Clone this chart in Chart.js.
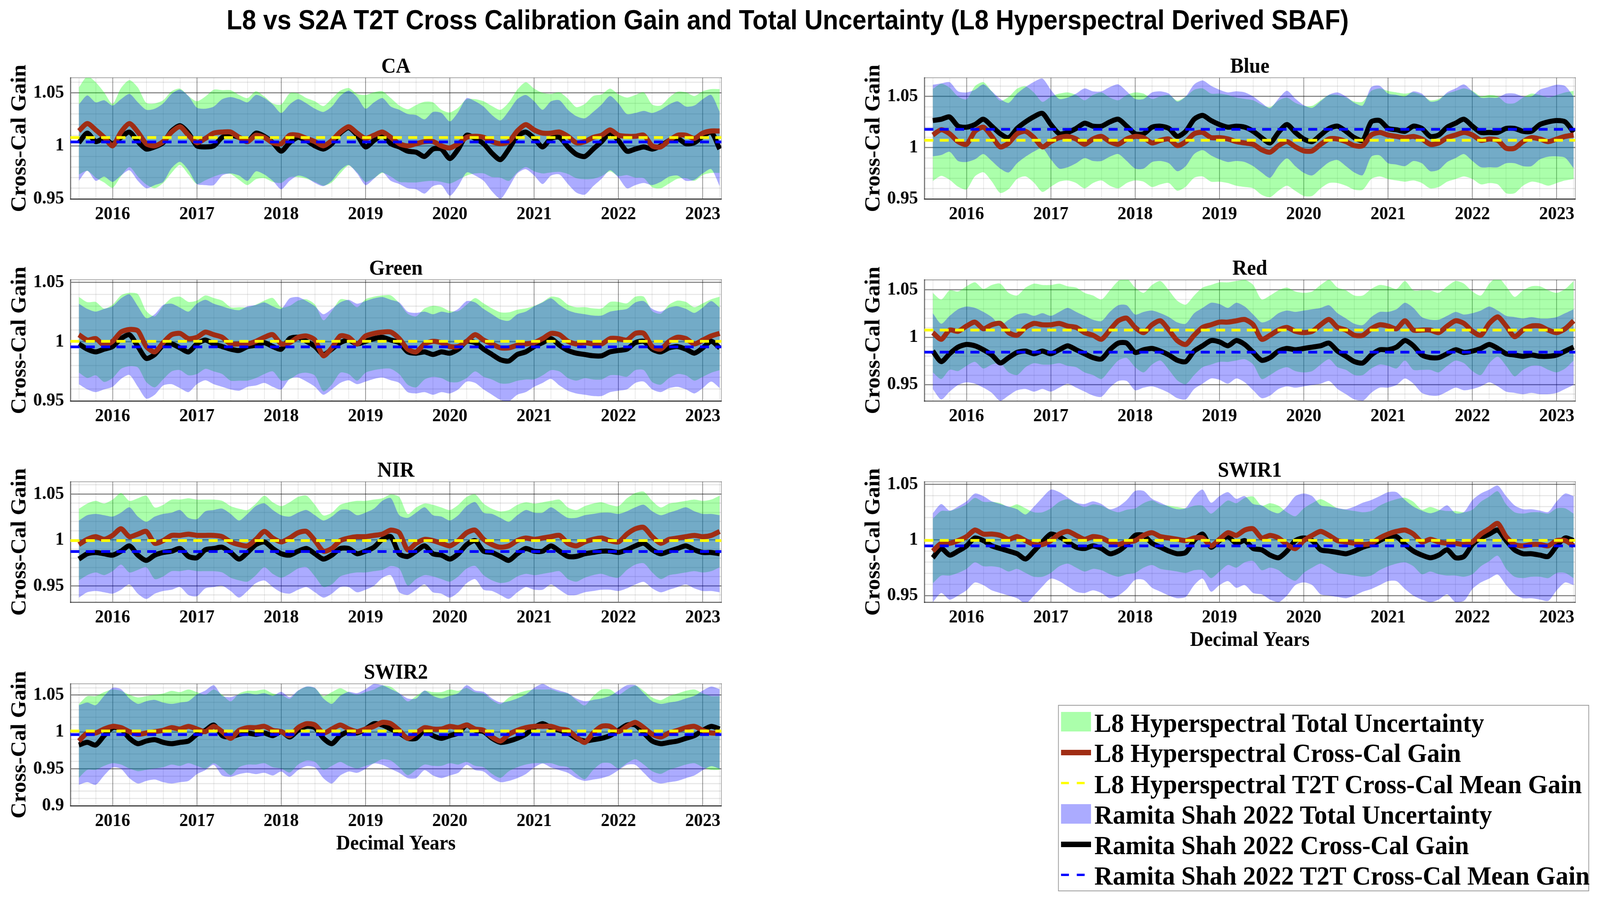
<!DOCTYPE html>
<html><head><meta charset="utf-8">
<script src="https://cdn.jsdelivr.net/npm/chart.js@4.4.1/dist/chart.umd.min.js"></script>
<style>
html,body{margin:0;padding:0;background:#fff;overflow:hidden;}
#page{position:absolute;left:0;top:0;width:4272px;height:2311px;transform-origin:0 0;background:#fff;}
#title{position:absolute;left:605px;top:16px;white-space:nowrap;font-family:'Liberation Sans',Arial,sans-serif;font-weight:bold;font-size:70px;line-height:70px;color:#000;transform-origin:0 0;}
#legend{position:absolute;left:2825px;top:1804px;width:1414px;height:473px;border:2px solid #9a9a9a;background:#fff;}
.lt{position:absolute;left:95px;font-family:'Liberation Serif','Times New Roman',serif;font-weight:bold;font-size:68px;line-height:68px;white-space:nowrap;color:#000;}
.ic{position:absolute;}
</style></head><body>
<div id="page">
<div id="title">L8 vs S2A T2T Cross Calibration Gain and Total Uncertainty (L8 Hyperspectral Derived SBAF)</div>
<div id="legend">
 <div class="ic" style="left:6px;top:16px;width:80px;height:50px;background:rgba(0,255,0,0.33)"></div>
 <div class="lt" style="top:10px">L8 Hyperspectral Total Uncertainty</div>
 <div class="ic" style="left:6px;top:113px;width:80px;height:14px;background:#a02d14"></div>
 <div class="lt" style="top:87px">L8 Hyperspectral Cross-Cal Gain</div>
 <div class="ic" style="left:6px;top:195px;width:21px;height:6px;background:#ffff00"></div>
 <div class="ic" style="left:48px;top:195px;width:21px;height:6px;background:#ffff00"></div>
 <div class="lt" style="top:167px">L8 Hyperspectral T2T Cross-Cal Mean Gain</div>
 <div class="ic" style="left:6px;top:252px;width:80px;height:50px;background:rgba(0,0,255,0.33)"></div>
 <div class="lt" style="top:245px">Ramita Shah 2022 Total Uncertainty</div>
 <div class="ic" style="left:6px;top:348px;width:80px;height:14px;background:#000"></div>
 <div class="lt" style="top:323px">Ramita Shah 2022 Cross-Cal Gain</div>
 <div class="ic" style="left:6px;top:430px;width:21px;height:6px;background:#0000ff"></div>
 <div class="ic" style="left:48px;top:430px;width:21px;height:6px;background:#0000ff"></div>
 <div class="lt" style="top:401px">Ramita Shah 2022 T2T Cross-Cal Mean Gain</div>
</div>
</div>
<script>
// ---------------- DATA ----------------
const times = [
2015.6,2015.7,2015.8,2015.9,2016.0,2016.1,2016.2,2016.3,2016.4,2016.5,
2016.6,2016.7,2016.8,2016.9,2017.0,2017.1,2017.2,2017.3,2017.4,2017.5,
2017.6,2017.7,2017.8,2017.9,2018.0,2018.1,2018.2,2018.3,2018.4,2018.5,
2018.6,2018.7,2018.8,2018.9,2019.0,2019.1,2019.2,2019.3,2019.4,2019.5,
2019.6,2019.7,2019.8,2019.9,2020.0,2020.1,2020.2,2020.3,2020.4,2020.5,
2020.6,2020.7,2020.8,2020.9,2021.0,2021.1,2021.2,2021.3,2021.4,2021.5,
2021.6,2021.7,2021.8,2021.9,2022.0,2022.1,2022.2,2022.3,2022.4,2022.5,
2022.6,2022.7,2022.8,2022.9,2023.0,2023.1,2023.2];
const xTickLabels = [2016,2017,2018,2019,2020,2021,2022,2023];
const bandNames = ['CA','Blue','Green','Red','NIR','SWIR1','SWIR2'];
const l8MeanGain = [1.0078,1.0072,1.0003,1.0076,0.9993,0.9996,1.0013];
const rsMeanGain = [1.0037,1.0179,0.9956,0.9843,0.9874,0.9947,0.9964];
const yTicksStd = [0.95,1,1.05];
const yTicksSWIR2 = [0.9,0.95,1,1.05];

// CA
const caL8Gain = [
1.014,1.021,1.015,1.008,1.000,1.013,1.021,1.013,1.002,1.000,
1.004,1.013,1.018,1.010,1.003,1.007,1.012,1.013,1.013,1.008,
1.004,1.010,1.008,1.003,1.002,1.010,1.010,1.007,1.004,1.000,
1.005,1.013,1.018,1.012,1.007,1.010,1.013,1.008,1.002,1.000,
1.002,1.004,1.004,1.000,0.998,1.002,1.008,1.009,1.008,1.004,
1.002,1.004,1.014,1.020,1.015,1.012,1.012,1.013,1.009,1.003,
1.004,1.008,1.010,1.015,1.010,1.009,1.009,1.010,1.000,0.999,
1.005,1.010,1.010,1.007,1.012,1.014,1.014];
const caRsGain = [
1.003,1.012,1.004,1.007,1.002,1.008,1.013,1.004,0.997,0.999,
1.003,1.014,1.019,1.012,1.000,0.999,1.000,1.008,1.010,1.008,
1.004,1.012,1.009,1.003,0.995,1.003,1.008,1.005,1.000,0.997,
1.002,1.012,1.017,1.010,0.999,1.005,1.010,1.002,0.999,0.995,
0.994,0.990,0.997,0.997,0.988,0.997,1.010,1.007,1.002,0.993,
0.987,0.997,1.009,1.013,1.007,0.999,1.007,1.008,0.999,0.992,
0.990,0.997,1.004,1.012,1.005,0.995,0.997,0.999,0.997,1.000,
1.005,1.007,1.002,1.003,1.009,1.013,0.997];
const caL8Unc = [
.041,.0445,.045,.0425,.0395,.0415,.041,.042,.0385,.040,
.039,.0385,.036,.037,.039,.0395,.041,.0395,.0395,.040,
.041,.0415,.0385,.037,.037,.0395,.0395,.038,.038,.0375,
.0395,.039,.0365,.037,.041,.0405,.0385,.037,.036,.0345,
.0365,.0375,.037,.034,.0335,.034,.036,.035,.034,.0335,
.032,.037,.039,.040,.039,.038,.037,.0375,.0355,.0335,
.0355,.039,.0385,.039,.0385,.0365,.039,.0405,.039,.039,
.0405,.041,.0405,.040,.0395,.0395,.0395];
const caRsUnc = [
.036,.0355,.037,.036,.036,.036,.036,.037,.037,.036,
.037,.035,.034,.035,.036,.036,.037,.036,.036,.036,
.037,.036,.036,.036,.036,.036,.036,.035,.035,.035,
.035,.035,.035,.036,.036,.036,.035,.035,.035,.035,
.035,.035,.035,.034,.035,.035,.035,.035,.035,.036,
.037,.036,.035,.035,.035,.035,.035,.035,.035,.036,
.036,.035,.035,.035,.035,.035,.034,.034,.034,.034,
.034,.035,.035,.035,.035,.035,.035];

// Blue
const blueL8Gain = [
1.0124,1.0175,1.0136,1.0059,1.0033,1.016,1.020,1.011,1.0008,1.0046,
1.0136,1.016,1.0098,1.0008,1.0059,1.0098,1.011,1.0085,1.0033,1.0085,
1.011,1.0059,1.0033,1.0085,1.011,1.0098,1.0046,1.0072,1.0085,1.002,
1.0059,1.0136,1.0149,1.0098,1.0098,1.0085,1.0059,1.0046,1.0033,0.998,
0.9956,1.002,1.0059,1.0008,0.9969,0.9969,1.0033,1.0085,1.0085,1.0059,
1.002,1.002,1.0124,1.0149,1.0124,1.011,1.0098,1.011,1.0085,1.0033,
1.0046,1.0098,1.0124,1.0149,1.0124,1.0072,1.0085,1.0072,0.9995,0.9995,
1.0059,1.0098,1.0085,1.0059,1.0085,1.011,1.0124];
const blueRsGain = [
1.0265,1.0278,1.030,1.021,1.020,1.0226,1.0278,1.021,1.0136,1.0098,
1.0188,1.0252,1.0303,1.0335,1.0226,1.0136,1.0149,1.0188,1.0239,1.021,
1.021,1.0252,1.0278,1.021,1.0136,1.0136,1.020,1.021,1.0188,1.011,
1.016,1.0278,1.0316,1.0265,1.0226,1.020,1.021,1.020,1.016,1.0098,
1.0046,1.0149,1.0226,1.0149,1.0085,1.0059,1.0124,1.0188,1.021,1.016,
1.0098,1.0072,1.0252,1.0265,1.0188,1.0175,1.016,1.021,1.0188,1.011,
1.0124,1.020,1.0239,1.0278,1.021,1.0149,1.0149,1.0149,1.0188,1.0188,
1.016,1.016,1.0226,1.0252,1.0265,1.0252,1.0149];
const blueL8Unc = [
.045,.045,.045,.044,.044,.044,.044,.044,.045,.045,
.044,.044,.044,.044,.044,.043,.043,.043,.043,.043,
.043,.043,.043,.043,.043,.043,.043,.043,.043,.044,
.044,.043,.043,.043,.043,.043,.043,.043,.043,.044,
.044,.044,.043,.043,.044,.044,.043,.043,.043,.043,
.043,.043,.043,.043,.043,.043,.043,.043,.043,.043,
.043,.043,.043,.043,.043,.043,.043,.043,.044,.044,
.043,.043,.043,.043,.043,.043,.043];
const blueRsUnc = [
.035,.035,.034,.034,.034,.034,.034,.034,.034,.034,
.034,.034,.034,.034,.034,.034,.034,.034,.034,.034,
.034,.034,.034,.034,.034,.034,.034,.034,.034,.034,
.034,.034,.034,.034,.034,.034,.034,.034,.034,.034,
.034,.033,.033,.033,.033,.033,.033,.033,.033,.034,
.034,.034,.034,.034,.034,.034,.034,.034,.034,.034,
.034,.034,.034,.034,.034,.034,.034,.034,.034,.034,
.034,.034,.034,.034,.035,.035,.035];

// Green
const greenL8Gain = [
1.0059,1.0014,1.0026,0.997,1.0003,1.0081,1.0103,1.0092,0.9959,0.9914,
0.9992,1.0059,1.007,1.0026,1.0037,1.0081,1.0059,1.0037,0.9981,0.9981,
0.9981,1.0003,1.0037,1.0059,0.9981,0.9992,1.0037,1.0048,1.0014,0.9881,
0.9948,1.0048,1.0037,0.9981,1.0048,1.007,1.0081,1.0081,1.0026,0.9937,
0.9914,0.9981,1.0003,0.9992,0.9959,0.9959,1.0003,1.0059,1.0014,0.9981,
0.9948,0.9948,0.997,0.9981,0.9992,1.0026,1.007,1.0059,1.0003,0.9981,
0.9992,0.9981,0.9981,1.0026,1.0026,1.0014,1.007,1.007,0.9959,0.9937,
1.0003,1.0037,1.0026,0.9981,1.0014,1.0048,1.007];
const greenRsGain = [
0.9981,0.9937,0.9914,0.9937,0.9959,1.0026,1.0059,0.9959,0.9859,0.9892,
0.997,0.9981,0.9948,0.9914,0.9981,1.0014,0.9981,0.9959,0.9937,0.9926,
0.9959,0.997,0.9992,0.9959,0.9937,1.0026,1.0037,1.0003,0.9959,0.9892,
0.9937,0.9992,1.0014,0.9981,1.0003,1.0026,1.0037,1.0014,0.9992,0.9914,
0.9903,0.9914,0.9892,0.9914,0.9903,0.9937,1.0003,0.9992,0.9937,0.9892,
0.9848,0.9837,0.9892,0.9914,0.9959,0.9992,1.0026,0.997,0.9926,0.9903,
0.9892,0.9881,0.9881,0.9914,0.9926,0.9937,0.9992,1.0003,0.9937,0.9914,
0.9948,0.9959,0.9937,0.9903,0.9948,1.0003,0.9948];
const greenL8Unc = [
.032,.032,.031,.031,.031,.031,.031,.031,.030,.030,
.031,.031,.031,.031,.031,.031,.031,.031,.031,.031,
.031,.031,.031,.031,.031,.031,.031,.031,.030,.030,
.031,.031,.031,.031,.031,.031,.031,.031,.030,.030,
.030,.030,.030,.030,.030,.030,.031,.031,.031,.030,
.030,.030,.030,.030,.031,.031,.031,.031,.031,.031,
.030,.030,.030,.031,.031,.031,.031,.031,.030,.030,
.031,.031,.031,.031,.031,.031,.031];
const greenRsUnc = [
.034,.034,.034,.034,.034,.034,.034,.034,.034,.034,
.034,.034,.034,.034,.034,.034,.034,.034,.034,.034,
.034,.034,.034,.034,.034,.034,.034,.034,.034,.034,
.034,.034,.034,.034,.034,.034,.034,.034,.034,.034,
.034,.034,.034,.034,.034,.034,.034,.034,.034,.034,
.034,.034,.034,.034,.034,.034,.034,.034,.034,.034,
.034,.034,.034,.034,.034,.034,.034,.034,.034,.034,
.034,.034,.034,.034,.034,.034,.034];

// Red
const redL8Gain = [
1.0049,0.9979,1.0076,1.0063,1.0118,1.016,1.009,1.0132,1.0146,1.0049,
1.0021,1.0104,1.0146,1.0132,1.0132,1.0146,1.0118,1.0104,1.0049,1.0021,
0.9979,1.0076,1.0174,1.0201,1.0104,1.0049,1.0132,1.0174,1.0076,0.9965,
0.9924,1.0021,1.0104,1.0132,1.016,1.016,1.0174,1.0188,1.0132,0.9979,
1.0021,1.0076,1.0104,1.0063,1.0049,1.0063,1.0132,1.0188,1.0104,1.0076,
1.0021,1.0021,1.009,1.0132,1.0118,1.009,1.0174,1.0076,1.0076,1.0076,
1.0049,1.0118,1.0174,1.0146,1.0063,1.0021,1.0146,1.0215,1.0118,1.0007,
1.0076,1.0118,1.0118,1.0076,1.0049,1.009,1.0174];
const redRsGain = [
0.9854,0.9743,0.9826,0.9896,0.9924,0.991,0.9868,0.9813,0.9729,0.9785,
0.984,0.9854,0.9826,0.9854,0.9826,0.9868,0.991,0.9868,0.9826,0.9785,
0.9771,0.9868,0.9938,0.9938,0.984,0.9868,0.9882,0.9854,0.9813,0.9757,
0.9743,0.9854,0.991,0.9965,0.9951,0.991,0.9965,0.9924,0.984,0.9757,
0.9785,0.9854,0.9882,0.9868,0.9882,0.9896,0.991,0.9938,0.9854,0.9799,
0.9743,0.9729,0.9813,0.9868,0.9868,0.9896,0.9965,0.991,0.9813,0.9785,
0.9785,0.9826,0.9868,0.984,0.9854,0.9882,0.9924,0.9882,0.9826,0.9813,
0.9799,0.9813,0.9799,0.9799,0.9813,0.9854,0.9896];
const redL8Unc = [
.042,.042,.042,.042,.042,.042,.042,.042,.042,.042,
.042,.042,.042,.042,.042,.042,.042,.042,.042,.042,
.042,.042,.042,.042,.042,.042,.042,.042,.042,.042,
.042,.042,.042,.042,.042,.042,.042,.042,.042,.042,
.042,.042,.042,.042,.042,.042,.042,.042,.042,.042,
.042,.042,.042,.042,.042,.042,.042,.042,.042,.042,
.042,.042,.042,.042,.042,.042,.042,.042,.042,.042,
.042,.042,.042,.042,.042,.042,.042];
const redRsUnc = [
.040,.040,.040,.040,.040,.040,.040,.040,.040,.040,
.040,.040,.040,.040,.040,.040,.040,.040,.040,.040,
.040,.040,.040,.040,.040,.040,.040,.040,.040,.040,
.040,.040,.040,.040,.040,.040,.040,.040,.040,.040,
.040,.040,.040,.040,.040,.040,.040,.040,.040,.040,
.040,.040,.040,.040,.040,.040,.040,.040,.040,.040,
.040,.040,.040,.040,.040,.040,.040,.040,.040,.040,
.040,.040,.040,.040,.040,.040,.040];

// NIR
const nirL8Gain = [
0.995,1.0007,1.0036,1.0007,1.005,1.0122,1.0036,1.0064,1.0093,0.9964,
0.9993,1.005,1.005,1.0064,1.005,1.005,1.005,1.0036,0.9979,0.995,
0.9936,1.0007,1.0093,1.0021,0.9979,1.0021,1.0079,1.0093,0.9993,0.9878,
0.9907,0.9993,1.0021,1.0036,1.0036,1.005,1.0064,1.0107,1.0079,0.9893,
0.9964,1.0007,0.9993,0.9964,0.9936,0.9993,1.0079,1.0107,1.0007,0.995,
0.9921,0.9936,0.9993,1.0021,1.0007,1.0021,1.0036,1.005,0.9964,0.9936,
0.9979,1.0007,1.0021,0.9993,0.9979,1.0064,1.0122,1.0136,1.0036,0.9964,
1.0007,1.0021,1.0036,1.005,1.0036,1.005,1.0093];
const nirRsGain = [
0.9792,0.985,0.9864,0.985,0.9835,0.9878,0.9936,0.9835,0.9778,0.9835,
0.9864,0.9878,0.9907,0.9821,0.9807,0.9893,0.9907,0.9921,0.9864,0.9792,
0.9864,0.995,0.9979,0.9907,0.985,0.9835,0.9878,0.9907,0.985,0.9792,
0.9835,0.9907,0.9907,0.985,0.9878,0.9921,1.0007,1.0036,0.985,0.9821,
0.9878,0.9936,0.985,0.9835,0.9792,0.985,0.995,0.9993,0.9878,0.9864,
0.9821,0.9778,0.985,0.9907,0.9878,0.9878,0.9936,0.9878,0.9821,0.9821,
0.985,0.9864,0.9878,0.9878,0.9864,0.9893,0.9936,0.9964,0.9893,0.985,
0.9878,0.9907,0.9936,0.9893,0.9864,0.9864,0.985];
const nirL8Unc = [
.039,.039,.039,.039,.039,.039,.039,.039,.039,.039,
.039,.039,.039,.039,.039,.039,.039,.039,.039,.039,
.039,.039,.039,.039,.039,.039,.039,.039,.039,.039,
.039,.039,.039,.039,.039,.039,.039,.039,.039,.039,
.039,.039,.039,.039,.039,.039,.039,.039,.039,.039,
.039,.039,.039,.039,.039,.039,.039,.039,.039,.039,
.039,.039,.039,.039,.039,.039,.039,.039,.039,.039,
.039,.039,.039,.039,.039,.039,.039];
const nirRsUnc = [
.042,.042,.042,.042,.042,.042,.042,.042,.042,.042,
.042,.042,.042,.042,.042,.042,.042,.042,.042,.042,
.042,.042,.042,.042,.042,.042,.042,.042,.042,.042,
.042,.042,.042,.042,.042,.042,.042,.042,.042,.042,
.042,.042,.042,.042,.042,.042,.042,.042,.042,.042,
.042,.042,.042,.042,.042,.042,.042,.042,.042,.042,
.042,.042,.042,.042,.042,.042,.042,.042,.042,.042,
.042,.042,.042,.042,.042,.042,.042];

// SWIR1
const swir1L8Gain = [
0.990,0.997,0.997,0.9994,1.003,1.0089,1.0053,1.0053,1.0041,1.0006,
1.003,0.9994,0.9959,0.9959,0.9994,1.0053,1.0077,1.0041,1.0006,1.003,
1.0018,0.9982,0.9959,0.9982,0.9994,1.0041,1.0065,1.003,1.0018,1.0006,
0.9994,1.0018,1.0018,0.9947,1.0006,1.0065,1.0041,1.0089,1.010,1.0018,
1.0041,1.0018,0.9959,0.9923,0.9994,1.0041,1.0077,1.0041,0.9994,0.9982,
0.997,0.9959,0.997,1.0018,1.0053,1.0077,1.0089,1.0053,0.9982,1.0006,
0.9982,0.997,0.997,0.9959,0.9982,1.0053,1.010,1.0148,1.003,0.9959,
0.9947,0.9959,0.9959,0.9947,0.9994,0.9994,0.9947];
const swir1RsGain = [
0.984,0.9923,0.9864,0.990,0.9947,1.0018,0.9994,0.9947,0.9923,0.990,
0.9876,0.9829,0.990,0.9982,1.0053,1.003,0.9982,0.9935,0.9923,0.9947,
0.9923,0.9876,0.990,0.9959,1.0041,1.0041,0.997,0.9935,0.990,0.9876,
0.9888,0.9994,1.0053,0.9935,0.9994,1.003,0.997,0.9994,0.9923,0.9911,
0.9864,0.984,0.990,0.9994,1.0018,0.9994,0.9911,0.990,0.9888,0.9876,
0.990,0.9935,0.9959,0.9994,1.003,1.003,0.9959,0.990,0.9864,0.984,
0.9864,0.9911,0.984,0.9852,0.9959,1.0018,1.0053,1.0089,0.9994,0.9911,
0.9876,0.9876,0.9864,0.9852,0.9947,1.0018,0.9994];
const swir1L8Unc = [
.029,.029,.029,.029,.029,.029,.029,.029,.029,.029,
.029,.029,.029,.029,.029,.029,.029,.029,.029,.029,
.029,.029,.029,.029,.029,.029,.029,.029,.029,.029,
.029,.029,.029,.029,.029,.029,.029,.029,.029,.029,
.029,.029,.029,.029,.029,.029,.029,.029,.029,.029,
.029,.029,.029,.029,.029,.029,.029,.029,.029,.029,
.029,.029,.029,.029,.029,.029,.029,.029,.029,.029,
.029,.029,.029,.029,.029,.029,.029];
const swir1RsUnc = [
.040,.040,.040,.040,.040,.040,.040,.040,.040,.040,
.040,.040,.040,.040,.040,.040,.040,.040,.040,.040,
.040,.040,.040,.040,.040,.040,.040,.040,.040,.040,
.040,.040,.040,.040,.040,.040,.040,.040,.040,.040,
.040,.040,.040,.040,.040,.040,.040,.040,.040,.040,
.040,.040,.040,.040,.040,.040,.040,.040,.040,.040,
.040,.040,.040,.040,.040,.040,.040,.040,.040,.040,
.040,.040,.040,.040,.040,.040,.040];

// SWIR2
const swir2L8Gain = [
0.9877,0.9986,0.9986,1.004,1.0076,1.0058,1.0004,0.9968,0.9986,1.0004,
1.0022,1.0058,1.004,1.0076,1.004,1.0004,1.0076,1.0004,0.9914,1.0022,
1.0058,1.0058,1.0076,1.0022,1.0004,0.995,1.0058,1.0112,1.0094,0.9986,
1.004,1.0094,1.004,1.0004,1.004,1.0076,1.013,1.0112,1.0022,0.9914,
0.9986,1.0058,1.004,1.004,1.0076,1.0058,1.0094,1.004,1.0022,0.9932,
0.9877,0.9968,1.0022,1.0058,1.0076,1.0076,1.0076,1.004,1.0022,0.9932,
0.9859,0.9986,1.0076,1.0076,1.0004,1.0076,1.013,1.0058,0.9968,0.9932,
0.9986,1.0022,1.0058,1.0076,1.0022,0.9986,0.9986];
const swir2RsGain = [
0.9823,0.9859,0.9823,0.995,1.0058,1.004,0.9914,0.9841,0.9877,0.9895,
0.9859,0.9841,0.9859,0.9877,0.9968,1.0022,1.0094,0.995,0.9932,0.9968,
0.9986,0.9968,0.9986,0.995,1.0004,0.9932,1.0022,1.0076,1.0058,0.9914,
0.9841,0.995,1.0004,0.9986,1.004,1.0112,1.0094,1.004,0.9986,0.9914,
0.9914,1.0022,0.995,0.9914,0.995,0.9986,1.0094,1.0022,1.0004,0.9914,
0.9859,0.9877,0.9914,0.9968,1.0058,1.0112,1.0058,1.0022,0.9986,0.9914,
0.9877,0.9895,0.9914,0.995,1.0022,1.0094,1.0094,0.9986,0.9877,0.9841,
0.9859,0.9877,0.9914,0.995,1.0022,1.0076,1.004];
const swir2L8Unc = [
.050,.050,.050,.050,.050,.050,.050,.050,.050,.050,
.050,.050,.050,.050,.050,.050,.050,.050,.050,.050,
.050,.050,.050,.050,.050,.050,.050,.050,.050,.050,
.050,.050,.050,.050,.050,.050,.050,.050,.050,.050,
.050,.050,.050,.050,.050,.050,.050,.050,.050,.050,
.050,.050,.050,.050,.050,.050,.050,.050,.050,.050,
.050,.050,.050,.050,.050,.050,.050,.050,.050,.050,
.050,.050,.050,.050,.050,.050,.050];
const swir2RsUnc = [
.054,.054,.054,.054,.054,.054,.054,.054,.054,.054,
.054,.054,.054,.054,.054,.054,.054,.054,.054,.054,
.054,.054,.054,.054,.054,.054,.054,.054,.054,.054,
.054,.054,.054,.054,.054,.054,.054,.054,.054,.054,
.054,.054,.054,.054,.054,.054,.054,.054,.054,.054,
.054,.054,.054,.054,.054,.054,.054,.054,.054,.054,
.054,.054,.054,.054,.054,.054,.054,.054,.054,.054,
.054,.054,.054,.054,.054,.054,.054];

// ---------------- LAYOUT / STYLE ----------------
const SERIF = "'Liberation Serif','Times New Roman',serif";
const XMIN = 2015.5, XMAX = 2023.22;
const COLS = [{axL:188, axR:1926},{axL:2468, axR:4206}];
const ROWS = [{top:199,bot:509},{top:716,bot:1026},{top:1233,bot:1541},{top:1750,bot:2062}];
const TITLE_H = 54;

const panels = [
 {col:0,row:0,l8:caL8Gain,rs:caRsGain,l8u:caL8Unc,rsu:caRsUnc,ticks:yTicksStd,ymin:0.95,ymax:1.0642,xlabel:false},
 {col:1,row:0,l8:blueL8Gain,rs:blueRsGain,l8u:blueL8Unc,rsu:blueRsUnc,ticks:yTicksStd,ymin:0.95,ymax:1.0683,xlabel:false},
 {col:0,row:1,l8:greenL8Gain,rs:greenRsGain,l8u:greenL8Unc,rsu:greenRsUnc,ticks:yTicksStd,ymin:0.95,ymax:1.0523,xlabel:false},
 {col:1,row:1,l8:redL8Gain,rs:redRsGain,l8u:redL8Unc,rsu:redRsUnc,ticks:yTicksStd,ymin:0.9328,ymax:1.0607,xlabel:false},
 {col:0,row:2,l8:nirL8Gain,rs:nirRsGain,l8u:nirL8Unc,rsu:nirRsUnc,ticks:yTicksStd,ymin:0.9323,ymax:1.0634,xlabel:false},
 {col:1,row:2,l8:swir1L8Gain,rs:swir1RsGain,l8u:swir1L8Unc,rsu:swir1RsUnc,ticks:yTicksStd,ymin:0.9441,ymax:1.0523,xlabel:true},
 {col:0,row:3,l8:swir2L8Gain,rs:swir2RsGain,l8u:swir2L8Unc,rsu:swir2RsUnc,ticks:yTicksSWIR2,ymin:0.9,ymax:1.0653,xlabel:true}
];

const page = document.getElementById('page');
(function(){
  const t = document.getElementById('title');
  const w = t.offsetWidth;
  t.style.transform = 'scaleX(' + (2996 / w) + ')';
})();

function minorX(){ const out=[]; for(let k=Math.ceil(XMIN*5); k<=Math.floor(XMAX*5); k++){ if(k%5!==0) out.push({value:k/5}); } return out; }
function minorY(p){ const out=[]; for(let k=Math.ceil(p.ymin*100-1e-9); k<=Math.floor(p.ymax*100+1e-9); k++){ const v=k/100; if(!p.ticks.some(t=>Math.abs(t-v)<1e-9)) out.push({value:v}); } return out; }

const fontTick = {family:SERIF, size:47, weight:'bold'};
const fontLab = {family:SERIF, size:52, weight:'bold'};
const fontYLab = {family:SERIF, size:57, weight:'bold'};

panels.forEach((p,i)=>{
  const col = COLS[p.col], row = ROWS[p.row];
  const XH = p.xlabel ? 130 : 80;
  const left = col.axL - 188, top = row.top - TITLE_H;
  const w = (col.axR - col.axL) + 188 + 14;
  const h = TITLE_H + (row.bot - row.top) + XH;
  const cv = document.createElement('canvas');
  cv.width = w; cv.height = h;
  cv.style.cssText = 'position:absolute;left:'+left+'px;top:'+top+'px;width:'+w+'px;height:'+h+'px';
  page.appendChild(cv);

  const pts = ys => times.map((t,j)=>({x:t, y:ys[j]}));
  const hi = (g,u) => times.map((t,j)=>({x:t, y:g[j]+u[j]}));
  const lo = (g,u) => times.map((t,j)=>({x:t, y:g[j]-u[j]}));
  const common = {xAxisID:'x', yAxisID:'y', pointRadius:0, pointHoverRadius:0};
  const TR = 'rgba(0,0,0,0)';

  new Chart(cv, {
    type:'line',
    data:{datasets:[
      Object.assign({label:'Ramita Shah 2022 T2T Cross-Cal Mean Gain', data:[{x:XMIN,y:rsMeanGain[i]},{x:XMAX,y:rsMeanGain[i]}], borderColor:'#0000ff', borderWidth:7, borderDash:[24,17], fill:false, tension:0}, common),
      Object.assign({label:'L8 Hyperspectral T2T Cross-Cal Mean Gain', data:[{x:XMIN,y:l8MeanGain[i]},{x:XMAX,y:l8MeanGain[i]}], borderColor:'#ffff00', borderWidth:7, borderDash:[24,17], fill:false, tension:0}, common),
      Object.assign({label:'L8 Hyperspectral Cross-Cal Gain', data:pts(p.l8), borderColor:'#a02d14', borderWidth:13, fill:false, tension:0.25, borderJoinStyle:'round'}, common),
      Object.assign({label:'Ramita Shah 2022 Cross-Cal Gain', data:pts(p.rs), borderColor:'#000000', borderWidth:13, fill:false, tension:0.25, borderJoinStyle:'round'}, common),
      Object.assign({label:'RS hi', data:hi(p.rs,p.rsu), borderColor:TR, borderWidth:0, backgroundColor:'rgba(0,0,255,0.33)', fill:'+1', tension:0.25}, common),
      Object.assign({label:'RS lo', data:lo(p.rs,p.rsu), borderColor:TR, borderWidth:0, fill:false, tension:0.25}, common),
      Object.assign({label:'L8 hi', data:hi(p.l8,p.l8u), borderColor:TR, borderWidth:0, backgroundColor:'rgba(0,255,0,0.33)', fill:'+1', tension:0.25}, common),
      Object.assign({label:'L8 lo', data:lo(p.l8,p.l8u), borderColor:TR, borderWidth:0, fill:false, tension:0.25}, common)
    ]},
    options:{
      responsive:false, animation:false, devicePixelRatio:1, events:[],
      layout:{padding:{left:0,right:14,top:0,bottom:0}},
      plugins:{
        legend:{display:false}, tooltip:{enabled:false},
        title:{display:true, text:bandNames[i], fullSize:false, color:'#000', font:{family:SERIF,size:54,weight:'bold',lineHeight:1.0}, padding:{top:0,bottom:0}}
      },
      scales:{
        x:{type:'linear', axis:'x', position:'bottom', min:XMIN, max:XMAX,
           afterBuildTicks:s=>{ s.ticks = xTickLabels.map(v=>({value:v})); },
           afterFit:s=>{ s.height = XH; },
           ticks:{font:fontTick, color:'#000', padding:12, autoSkip:false, maxRotation:0, minRotation:0, callback:v=>String(v)},
           grid:{color:'rgba(0,0,0,0.45)', lineWidth:2, drawTicks:false},
           border:{display:true, color:'rgba(0,0,0,0.55)', width:3},
           title:{display:p.xlabel, text:'Decimal Years', color:'#000', font:fontLab, padding:{top:0,bottom:0}}},
        xm:{type:'linear', axis:'x', position:'top', min:XMIN, max:XMAX, z:-1,
           afterBuildTicks:s=>{ s.ticks = minorX(); },
           afterFit:s=>{ s.height = 0; },
           ticks:{display:false},
           grid:{color:'rgba(0,0,0,0.09)', lineWidth:2, drawTicks:false},
           border:{display:true, color:'rgba(0,0,0,0.35)', width:2}},
        y:{type:'linear', axis:'y', position:'left', min:p.ymin, max:p.ymax,
           afterBuildTicks:s=>{ s.ticks = p.ticks.map(v=>({value:v})); },
           afterFit:s=>{ s.width = 188; },
           ticks:{font:fontTick, color:'#000', padding:17, autoSkip:false, callback:v=>String(v)},
           grid:{color:'rgba(0,0,0,0.45)', lineWidth:3, drawTicks:false},
           border:{display:true, color:'rgba(0,0,0,0.55)', width:3},
           title:{display:true, text:'Cross-Cal Gain', color:'#000', font:fontYLab, padding:{top:19,bottom:0}}},
        ym:{type:'linear', axis:'y', position:'right', min:p.ymin, max:p.ymax, z:-1,
           afterBuildTicks:s=>{ s.ticks = minorY(p); },
           afterFit:s=>{ s.width = 0; },
           ticks:{display:false},
           grid:{color:'rgba(0,0,0,0.09)', lineWidth:3, drawTicks:false},
           border:{display:true, color:'rgba(0,0,0,0.35)', width:2}}
      }
    }
  });
});

// fit the 4272x2311 figure into the viewport the page is actually given
(function(){
  const sx = window.innerWidth / 4272, sy = window.innerHeight / 2311;
  if (Math.abs(sx - 1) > 0.002 || Math.abs(sy - 1) > 0.002) {
    page.style.transform = 'scale(' + sx + ',' + sy + ')';
  }
})();
</script>
</body></html>
